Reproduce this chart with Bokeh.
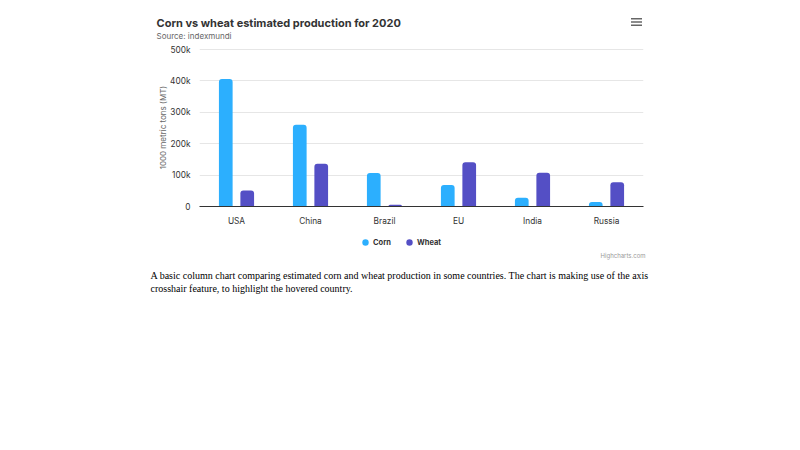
from bokeh.plotting import figure
from bokeh.layouts import column
from bokeh.models import (ColumnDataSource, FactorRange, Range1d, FixedTicker, Label,
                          Legend, LegendItem, BoxAnnotation)
from bokeh.transform import dodge
from bokeh.embed import file_html
from bokeh.resources import INLINE

countries = ["USA", "China", "Brazil", "EU", "India", "Russia"]
corn = [406292, 260000, 107000, 68300, 27500, 14500]
wheat = [51086, 136000, 5500, 141000, 107180, 77000]
y_ticks = [0, 100000, 200000, 300000, 400000, 500000]
y_tick_labels = ["0", "100k", "200k", "300k", "400k", "500k"]

title_text = "Corn vs wheat estimated production for 2020"
subtitle_text = "Source: indexmundi"
y_title = "1000 metric tons (MT)"
credits_text = "Highcharts.com"
desc_lines = [
    "A basic column chart comparing estimated corn and wheat production in some countries. The chart is making use of the axis",
    "crosshair feature, to highlight the hovered country.",
]

W = 800
HEAD_H = 44          # header strip (title, subtitle, menu)
MAIN_TOP, MAIN_BOT = 44, 232
FL, FR, FT, FB = 199, 643, 48, 206  # plot frame edges in page px
FONT = "Inter"
CORN_C, WHEAT_C = "#2caffe", "#544fc5"


def blank(height, y0, y1):
    f = figure(width=W, height=height, output_backend="svg", toolbar_location=None,
               x_range=Range1d(0, W), y_range=Range1d(y1, y0),
               x_axis_location=None, y_axis_location=None,
               min_border=0, border_fill_color="white", background_fill_color="white")
    f.outline_line_color = None
    f.grid.visible = False
    f.frame_align = False
    return f


def label(f, text, x, y, size, color="#333333", style="normal", font=FONT, align="left"):
    f.add_layout(Label(x=x, y=y, text=text, text_font=font, text_font_size=size,
                       text_color=color, text_font_style=style, text_align=align,
                       text_baseline="alphabetic"))


# ---------------- header ----------------
head = blank(HEAD_H, 0, HEAD_H)
label(head, title_text, 156, 22, "11px", color="#333333", style="bold")
label(head, subtitle_text, 156, 35, "8px", color="#666666")
for cy in (18.2, 21.5, 24.8):
    head.add_layout(BoxAnnotation(left=630.5, right=641.5, top=cy - 0.8, bottom=cy + 0.8,
                                  fill_color="#666666", fill_alpha=1, line_color=None))

# ---------------- main chart ----------------
source = ColumnDataSource(dict(country=countries, corn=corn, wheat=wheat))

p = figure(width=W, height=MAIN_BOT - MAIN_TOP, output_backend="svg", toolbar_location=None,
           x_range=FactorRange(*countries, range_padding=0),
           y_range=Range1d(0, 503200),
           min_border_left=FL, min_border_right=W - FR,
           min_border_top=FT - MAIN_TOP, min_border_bottom=MAIN_BOT - FB,
           background_fill_color="white", border_fill_color="white")
p.outline_line_color = None
p.frame_align = False

p.vbar(x=dodge("country", -0.145, range=p.x_range), top="corn", width=0.185,
       source=source, color=CORN_C, line_color=None, border_radius=(3, 3, 0, 0))
p.vbar(x=dodge("country", 0.145, range=p.x_range), top="wheat", width=0.185,
       source=source, color=WHEAT_C, line_color=None, border_radius=(3, 3, 0, 0))

p.xgrid.grid_line_color = None
p.ygrid.grid_line_color = "#e6e6e6"
p.ygrid.ticker = FixedTicker(ticks=y_ticks)

yax = p.yaxis[0]
yax.ticker = FixedTicker(ticks=y_ticks)
yax.major_label_overrides = dict(zip(y_ticks, y_tick_labels))
yax.axis_line_color = None
yax.major_tick_line_color = None
yax.minor_tick_line_color = None
yax.major_tick_out = 0
yax.major_tick_in = 0
yax.minor_tick_out = 0
yax.major_label_text_font = FONT
yax.major_label_text_font_size = "8.3px"
yax.major_label_text_color = "#333333"
yax.major_label_standoff = 9
yax.axis_label = y_title
yax.axis_label_text_font = FONT
yax.axis_label_text_font_size = "8px"
yax.axis_label_text_font_style = "normal"
yax.axis_label_text_color = "#666666"
yax.axis_label_standoff = -1

xax = p.xaxis[0]
xax.axis_line_color = "#333333"
xax.major_tick_line_color = None
xax.minor_tick_line_color = None
xax.major_tick_out = 0
xax.major_tick_in = 0
xax.minor_tick_out = 0
xax.major_label_text_font = FONT
xax.major_label_text_font_size = "8.3px"
xax.major_label_text_color = "#333333"
xax.major_label_standoff = 9

# ---------------- footer (legend, credits, description) ----------------
FOOT_TOP = MAIN_BOT
foot = blank(450 - FOOT_TOP, FOOT_TOP, 450)
# legend-only renderers (a single NaN row, so nothing is drawn in the plot area)
lg_src = ColumnDataSource(dict(x=[float("nan")], y=[float("nan")]))
lg_corn = foot.scatter(x="x", y="y", source=lg_src, marker="circle", size=7,
                       fill_color=CORN_C, line_color=None)
lg_wheat = foot.scatter(x="x", y="y", source=lg_src, marker="circle", size=7,
                        fill_color=WHEAT_C, line_color=None)
legend = Legend(items=[LegendItem(label="Corn", renderers=[lg_corn]),
                       LegendItem(label="Wheat", renderers=[lg_wheat])],
                orientation="horizontal", location=(357, 450 - 250),
                label_text_font=FONT, label_text_font_size="7.5px", label_text_color="#333333",
                label_text_font_style="bold", label_height=10,
                glyph_width=16, glyph_height=16, label_standoff=0, spacing=8,
                padding=0, margin=0, border_line_color=None, background_fill_alpha=0)
foot.add_layout(legend)

label(foot, credits_text, 645, 255, "6px", color="#999999", align="right")
label(foot, desc_lines[0], 150, 274.5, "10px", color="#000000", font="Liberation Serif")
label(foot, desc_lines[1], 150, 287.5, "10px", color="#000000", font="Liberation Serif")

layout = column(head, p, foot, spacing=0)
open("out.html", "w").write(file_html(layout, INLINE))
